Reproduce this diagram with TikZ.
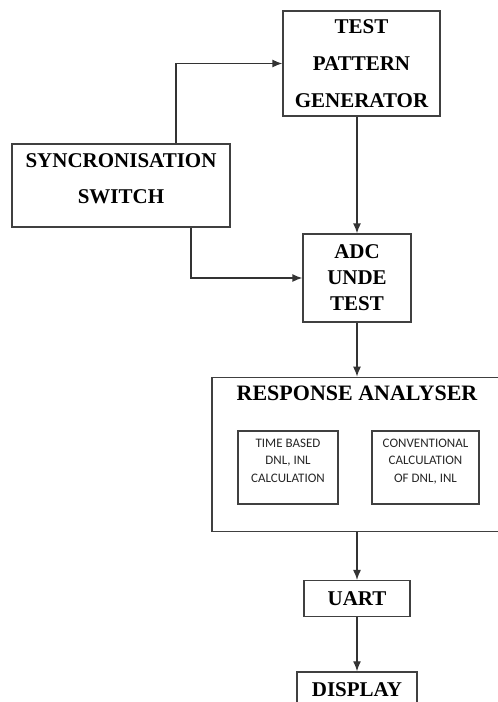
\documentclass[tikz,border=0pt]{standalone}
\usepackage{fontspec}
\setmainfont{Liberation Serif}
\newfontfamily\calcfont{Carlito}
\usetikzlibrary{positioning, arrows.meta}
\tikzstyle{blockbox} = [rectangle,
draw=black!75,
line width=1.3pt,
text centered,
align=center,
inner sep=2pt,
font=\bfseries\fontsize{21}{26}\selectfont]
\tikzstyle{calcbox} = [rectangle,
draw=black!75,
line width=1.3pt,
align=center,
inner sep=2pt,
minimum width=100pt,
minimum height=73pt,
text=black!85,
font=\calcfont\fontsize{13}{17.5}\selectfont]
\tikzstyle{flow} = [-{Latex[length=10pt, width=8pt]}, draw=black!80, line width=1.3pt]

\begin{document}
\begin{tikzpicture}[x=1pt, y=-1pt]
		\useasboundingbox (0,0) rectangle (498,702);
		\node (tpg) [blockbox, minimum width=157pt, minimum height=105pt, font=\bfseries\fontsize{21}{37}\selectfont] at (361.5,63.5) {TEST\\PATTERN\\GENERATOR};
		\node (sync) [blockbox, minimum width=218pt, minimum height=83pt, font=\bfseries\fontsize{21}{36}\selectfont] at (121,185.5) {SYNCRONISATION\\SWITCH\rule[-14pt]{0pt}{0pt}};
		\node (adc) [blockbox, minimum width=108pt, minimum height=88pt] at (357,278) {ADC\\UNDE\\TEST};
		\node (ra) [blockbox, minimum width=290pt, minimum height=154pt, below=54pt of adc] {};
		\node (ratitle) [font=\bfseries\fontsize{22}{26}\selectfont] at ([yshift=-17pt]ra.north) {RESPONSE ANALYSER};
		\node (timebox) [calcbox] at (288,467.5) {TIME BASED\\DNL, INL\\CALCULATION\rule[-14pt]{0pt}{0pt}};
		\node (convbox) [calcbox, minimum width=107pt] at (425.5,467.5) {CONVENTIONAL\\CALCULATION\\OF DNL, INL\rule[-14pt]{0pt}{0pt}};
		\node (uart) [blockbox, minimum width=106pt, minimum height=36pt, below=48pt of ra] {UART};
		\node (disp) [blockbox, minimum width=120pt, minimum height=36pt, below=54pt of uart] {DISPLAY};
		
		\draw [flow] ([xshift=55pt]sync.north) |- (tpg.west);
		\draw [flow] ([xshift=70pt]sync.south) |- (adc.west);
		\draw [flow] (tpg.south -| adc.north) -- (adc.north);
		\draw [flow] (adc) -- (ra);
		\draw [flow] (ra) -- (uart);
		\draw [flow] (uart) -- (disp);
	\end{tikzpicture}
\end{document}
